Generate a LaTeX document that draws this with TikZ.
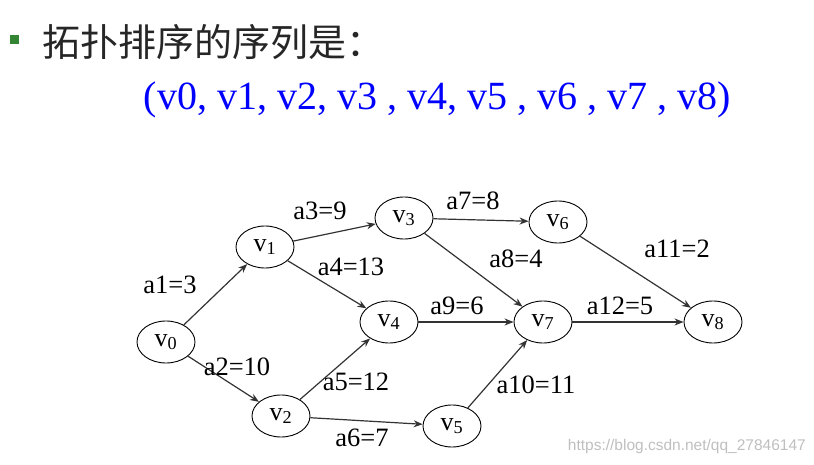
\documentclass[tikz,border=0pt]{standalone}
\usepackage{fontspec}
\setmainfont{Liberation Serif}
\newfontfamily\cjk{Noto Sans CJK SC}
\newfontfamily\wm{Liberation Sans}
\usetikzlibrary{shapes.geometric,arrows.meta}
\begin{document}
\begin{tikzpicture}[x=1pt,y=-1pt,
  vtx/.style={draw,ellipse,minimum width=58pt,minimum height=42pt,inner sep=0pt,font=\fontsize{26}{28}\selectfont,line width=0.9pt},
  arc/.style={-{Stealth[length=9pt,width=7pt]},line width=1.2pt,draw=black!80},
  lab/.style={font=\fontsize{26.5}{28}\selectfont,inner sep=0pt}]
\useasboundingbox (0,0) rectangle (814,465);
\fill[fill=green!40!black!80] (10,35) rectangle (19,44) coordinate (bul);
\node[anchor=west,inner sep=0pt,font=\cjk\fontsize{38}{40}\selectfont,text=black!85] (title) at (42,42) {拓扑排序的序列是：};
\node[inner sep=0pt,font=\fontsize{40}{44}\selectfont,text=blue] (seq) at (437,100) {(v0, v1, v2, v3 , v4, v5 , v6 , v7 , v8)};
\node[vtx] (v0) at (166,342) {v\textsubscript{0}};
\node[vtx] (v1) at (265,247) {v\textsubscript{1}};
\node[vtx] (v2) at (281,416) {v\textsubscript{2}};
\node[vtx] (v3) at (404,218) {v\textsubscript{3}};
\node[vtx] (v4) at (389,322) {v\textsubscript{4}};
\node[vtx] (v5) at (452,426) {v\textsubscript{5}};
\node[vtx] (v6) at (558,222) {v\textsubscript{6}};
\node[vtx] (v7) at (543,322) {v\textsubscript{7}};
\node[vtx] (v8) at (713,322) {v\textsubscript{8}};
\draw[arc] (v0) -- (v1);
\draw[arc] (v0) -- (v2);
\draw[arc] (v1) -- (v3);
\draw[arc] (v1) -- (v4);
\draw[arc] (v2) -- (v4);
\draw[arc] (v2) -- (v5);
\draw[arc] (v3) -- (v6);
\draw[arc] (v3) -- (v7);
\draw[arc] (v4) -- (v7);
\draw[arc] (v5) -- (v7);
\draw[arc] (v6) -- (v8);
\draw[arc] (v7) -- (v8);
\node[lab] (l1) at (170,285) {a1=3};
\node[lab] (l2) at (237,367) {a2=10};
\node[lab] (l3) at (320,211) {a3=9};
\node[lab] (l4) at (351,267) {a4=13};
\node[lab] (l5) at (356,382) {a5=12};
\node[lab] (l6) at (362,438) {a6=7};
\node[lab] (l7) at (473,201) {a7=8};
\node[lab] (l8) at (516,259) {a8=4};
\node[lab] (l9) at (457,306) {a9=6};
\node[lab] (l10) at (536,385) {a10=11};
\node[lab] (l11) at (677,249) {a11=2};
\node[lab] (l12) at (620,306) {a12=5};
\node[anchor=east,inner sep=0pt,font=\wm\fontsize{15.5}{17}\selectfont,text=black!25] (wm) at (806,446) {https://blog.csdn.net/qq\_27846147};
\end{tikzpicture}
\end{document}
